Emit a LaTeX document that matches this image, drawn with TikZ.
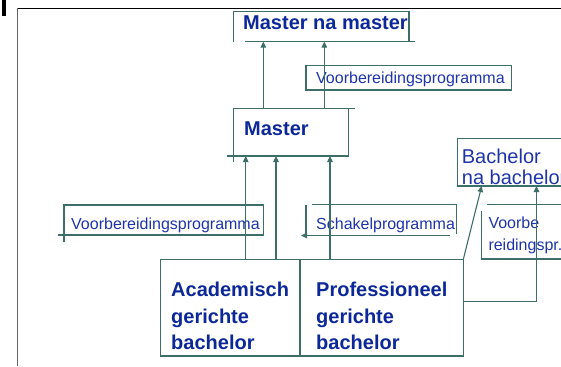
\documentclass[tikz,border=0pt]{standalone}
\usepackage{fontspec}
\setmainfont{Liberation Sans}
\usetikzlibrary{arrows.meta}
\definecolor{lin}{RGB}{62,110,106}
\definecolor{txt}{RGB}{30,52,168}
\definecolor{btxt}{RGB}{12,40,152}
\begin{document}
\begin{tikzpicture}[x=1pt,y=-1pt,
  boxarea/.style={rectangle, draw=none, inner sep=0pt, outer sep=0pt, anchor=north west},
  ln/.style={draw=lin, line width=1.1pt},
  arr/.style={ln, -{Triangle[length=6pt,width=5.5pt]}},
  bt/.style={anchor=base west, inner sep=0pt, text=btxt, font=\fontsize{20}{24}\selectfont\bfseries},
  nt/.style={anchor=base west, inner sep=0pt, text=txt, font=\fontsize{20}{24}\selectfont},
  st/.style={anchor=base west, inner sep=0pt, text=txt, font=\fontsize{16}{19}\selectfont}]
\useasboundingbox (0,0) rectangle (561,366);
\clip (0,0) rectangle (561,366);
% outer frame
\fill[black] (2,0) rectangle (5.5,16.5);
\draw[black, line width=1pt] (17.3,8.3) -- (561,8.3);
\draw[gray!80!black, line width=1pt] (17.3,8.3) -- (17.3,366);
% box areas
\node[boxarea, minimum width=175.7pt, minimum height=30pt] (mnm) at (233.3,11.7) {};
\node[boxarea, minimum width=205.7pt, minimum height=24.3pt] (vpa) at (306,65.7) {};
\node[boxarea, minimum width=115pt, minimum height=47.7pt] (mas) at (233.3,108.3) {};
\node[boxarea, minimum width=160pt, minimum height=47.7pt] (bnb) at (457.3,138.3) {};
\node[boxarea, minimum width=199.3pt, minimum height=30pt] (vpb) at (64,205) {};
\node[boxarea, minimum width=150.7pt, minimum height=31.2pt] (sch) at (306,204.3) {};
\node[boxarea, minimum width=140pt, minimum height=54.7pt] (vpc) at (481.5,204.3) {};
\node[boxarea, minimum width=139.3pt, minimum height=96.7pt] (aca) at (160.7,259.3) {};
\node[boxarea, minimum width=163.3pt, minimum height=96.7pt] (pro) at (300,259.3) {};
% outlines
\draw[ln] (mnm.south west) -- (mnm.north west) -- (mnm.north east) -- (mnm.south east);
\draw[ln] ([xshift=11.7pt]mnm.south west) -- ([xshift=6pt]mnm.south east);
\draw[ln] (vpa.south west) rectangle (vpa.north east);
\draw[ln] ([yshift=-5.7pt]mas.south west) -- (mas.north west) -- ([xshift=6.7pt]mas.north east);
\draw[ln] (mas.north east) -- (mas.south east) -- ([xshift=-6pt]mas.south west);
\draw[ln] (bnb.south west) rectangle (bnb.north east);
\draw[ln] ([yshift=-6.7pt]vpb.south west) -- (vpb.north west) -- (vpb.north east) -- (vpb.south east) -- ([xshift=-5.7pt]vpb.south west);
\draw[ln] ([xshift=6.3pt]sch.north west) -- (sch.north east) -- ([yshift=1.2pt]sch.south east);
\draw[ln] ([yshift=-0.7pt]sch.north west) -- (sch.south west);
\draw[arr] ([xshift=-6.7pt]sch.south east) -- ([xshift=-5pt]sch.south west);
\draw[ln] ([xshift=5.2pt]vpc.north west) -- (vpc.north east);
\draw[ln] ([yshift=-6.4pt]vpc.north west) -- (vpc.south west) -- (vpc.south east);
\draw[ln] (aca.south west) rectangle (aca.north east);
\draw[ln] (pro.south west) rectangle (pro.north east);
% texts
\node[bt] (tmnm) at (243,30) {Master na master};
\node[st] (tvpa) at (316,83.3) {Voorbereidingsprogramma};
\node[bt] (tmas) at (244,135.7) {Master};
\node[nt] (tbnba) at (461.7,163.3) {Bachelor};
\node[nt] (tbnbb) at (461.7,184) {na bachelor};
\node[st] (tvpb) at (71,229) {Voorbereidingsprogramma};
\node[st] (tsch) at (316,229) {Schakelprogramma};
\node[st] (tvpca) at (488.3,228) {Voorbe};
\node[st] (tvpcb) at (488.3,250) {reidingspr.};
\node[bt] (tacaa) at (171,296.5) {Academisch};
\node[bt] (tacab) at (171,323) {gerichte};
\node[bt] (tacac) at (171,349.5) {bachelor};
\node[bt] (tproa) at (316,296.5) {Professioneel};
\node[bt] (tprob) at (316,323) {gerichte};
\node[bt] (tproc) at (316,349.5) {bachelor};
% connectors
\coordinate (m1) at ([xshift=30pt]mas.north west);
\coordinate (m2) at ([xshift=91pt]mas.north west);
\coordinate (c1) at ([xshift=85pt]aca.north west);
\coordinate (c2) at ([xshift=115.3pt]aca.north west);
\coordinate (p1) at ([xshift=30pt]pro.north west);
\coordinate (b1) at ([xshift=24.4pt]bnb.south west);
\coordinate (b2) at ([xshift=79.2pt]bnb.south west);
\coordinate (p2) at ([yshift=5.9pt]pro.east);
\draw[arr] (m1) -- (m1 |- mnm.south);
\draw[arr] (m2) -- (m2 |- mnm.south);
\draw[arr] (c1) -- (c1 |- mas.south);
\draw[arr] (c2) -- (c2 |- mas.south);
\draw[arr] (p1) -- (p1 |- mas.south);
\draw[arr] (pro.north east) -- (b1);
\draw[arr] (p2) -| (b2);
\end{tikzpicture}
\end{document}
